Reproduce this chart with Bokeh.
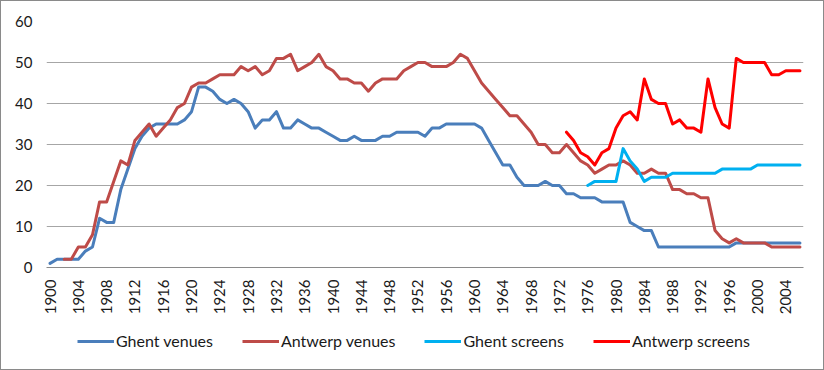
import math
from bokeh.plotting import figure
from bokeh.layouts import column
from bokeh.models import Range1d, FixedTicker, Legend, LegendItem, ColumnDataSource
from bokeh.embed import file_html
from bokeh.resources import INLINE

# ---------------- data ----------------
years = list(range(1900, 2007))
tick_years = list(range(1900, 2005, 4))
y_ticks = [0, 10, 20, 30, 40, 50, 60]

ghent_venues_start = 1900
ghent_venues = [
    1, 2, 2, 2, 2, 4, 5, 12, 11, 11,
    19, 24, 29, 32, 34, 35, 35, 35, 35, 36,
    38, 44, 44, 43, 41, 40, 41, 40, 38, 34,
    36, 36, 38, 34, 34, 36, 35, 34, 34, 33,
    32, 31, 31, 32, 31, 31, 31, 32, 32, 33,
    33, 33, 33, 32, 34, 34, 35, 35, 35, 35,
    35, 34, 31, 28, 25, 25, 22, 20, 20, 20,
    21, 20, 20, 18, 18, 17, 17, 17, 16, 16,
    16, 16, 11, 10, 9, 9, 5, 5, 5, 5,
    5, 5, 5, 5, 5, 5, 5, 6, 6, 6,
    6, 6, 6, 6, 6, 6, 6,
]

antwerp_venues_start = 1902
antwerp_venues = [
    2, 2, 5, 5, 8, 16, 16, 21,
    26, 25, 31, 33, 35, 32, 34, 36, 39, 40,
    44, 45, 45, 46, 47, 47, 47, 49, 48, 49,
    47, 48, 51, 51, 52, 48, 49, 50, 52, 49,
    48, 46, 46, 45, 45, 43, 45, 46, 46, 46,
    48, 49, 50, 50, 49, 49, 49, 50, 52, 51,
    48, 45, 43, 41, 39, 37, 37, 35, 33, 30,
    30, 28, 28, 30, 28, 26, 25, 23, 24, 25,
    25, 26, 25, 23, 23, 24, 23, 23, 19, 19,
    18, 18, 17, 17, 9, 7, 6, 7, 6, 6,
    6, 6, 5, 5, 5, 5, 5,
]

ghent_screens_start = 1976
ghent_screens = [
    20, 21, 21, 21,
    21, 29, 26, 24, 21, 22, 22, 22, 23, 23,
    23, 23, 23, 23, 23, 24, 24, 24, 24, 24,
    25, 25, 25, 25, 25, 25, 25,
]

antwerp_screens_start = 1973
antwerp_screens = [
    33, 31, 28, 27, 25, 28, 29,
    34, 37, 38, 36, 46, 41, 40, 40, 35, 36,
    34, 34, 33, 46, 39, 35, 34, 51, 50, 50,
    50, 50, 47, 47, 48, 48, 48,
]

series_names = ["Ghent venues", "Antwerp venues", "Ghent screens", "Antwerp screens"]
series_colors = ["#4A7EBB", "#BE4B48", "#00B0F0", "#FF0000"]

FONT = "Lato"
TEXT_COLOR = "#1a1a1a"

# ---------------- main chart ----------------
p = figure(
    width=822, height=318,
    output_backend="svg", toolbar_location=None,
    x_range=Range1d(1899.5, 2006.5), y_range=Range1d(0, 60),
    min_border_left=45, min_border_right=20, min_border_top=20, min_border_bottom=52,
    background_fill_color="white", border_fill_color="white",
)
p.outline_line_color = None

p.xgrid.grid_line_color = None
p.ygrid.grid_line_color = "#a6a6a6"
p.ygrid.grid_line_width = 1
p.ygrid.ticker = FixedTicker(ticks=y_ticks)

xa = p.xaxis[0]
xa.ticker = FixedTicker(ticks=tick_years)
xa.major_label_orientation = math.pi / 2
xa.major_tick_line_color = None
xa.major_tick_out = 0
xa.major_tick_in = 0
xa.minor_tick_line_color = None
xa.axis_line_color = "#8a8a8a"
xa.axis_line_width = 1
xa.major_label_standoff = 12
xa.major_label_text_font = FONT
xa.major_label_text_font_size = "15px"
xa.major_label_text_color = TEXT_COLOR

ya = p.yaxis[0]
ya.ticker = FixedTicker(ticks=y_ticks)
ya.major_tick_line_color = None
ya.major_tick_out = 0
ya.major_tick_in = 0
ya.minor_tick_line_color = None
ya.axis_line_color = None
ya.major_label_standoff = 14
ya.major_label_text_font = FONT
ya.major_label_text_font_size = "15px"
ya.major_label_text_color = TEXT_COLOR

all_series = [
    (ghent_venues_start, ghent_venues),
    (antwerp_venues_start, antwerp_venues),
    (ghent_screens_start, ghent_screens),
    (antwerp_screens_start, antwerp_screens),
]

for (start, vals), color in zip(all_series, series_colors):
    xs = list(range(start, start + len(vals)))
    src = ColumnDataSource(dict(x=xs, y=vals))
    p.line("x", "y", source=src, line_color=color, line_width=3,
           line_join="round", line_cap="round")

# ---------------- legend strip ----------------
lg = figure(
    width=822, height=50,
    output_backend="svg", toolbar_location=None,
    x_range=Range1d(0, 1), y_range=Range1d(0, 1),
    x_axis_location=None, y_axis_location=None,
    min_border=0, min_border_left=0, min_border_right=0,
    min_border_top=0, min_border_bottom=0,
    background_fill_color="white", border_fill_color="white",
)
lg.outline_line_color = None
lg.grid.visible = False

# legend-only line samples (kept outside the strip's visible range)
legend_renderers = []
for color in series_colors:
    r = lg.line(x=[-2, -1], y=[-2, -2], line_color=color, line_width=3)
    legend_renderers.append(r)

legend = Legend(
    items=[LegendItem(label=n, renderers=[r]) for n, r in zip(series_names, legend_renderers)],
    orientation="horizontal",
    location=(31, 19),
    border_line_color=None,
    background_fill_alpha=0,
    padding=0, margin=0,
    spacing=29,
    glyph_width=37, glyph_height=18,
    label_standoff=2,
    label_height=18,
    label_text_font=FONT,
    label_text_font_size="16px",
    label_text_color=TEXT_COLOR,
)
lg.add_layout(legend)

layout = column(p, lg, spacing=0)
layout.styles = {"border": "1px solid #8a8a8a"}

open("out.html", "w").write(file_html(layout, INLINE))
